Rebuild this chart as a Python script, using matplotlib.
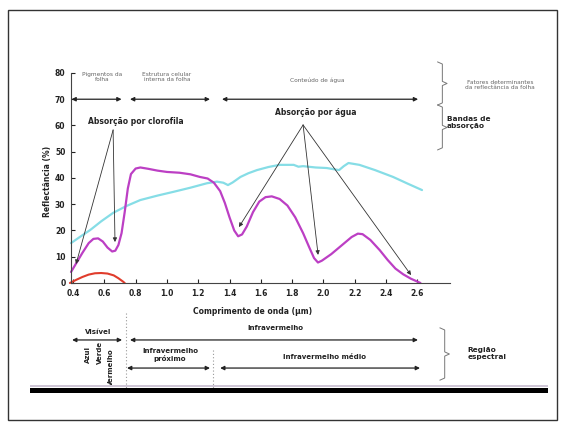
import matplotlib
matplotlib.use('Agg')
import matplotlib.pyplot as plt
from matplotlib.patches import Rectangle

plt.rcParams['font.family'] = ['DejaVu Sans']

# curvas de reflectância (comprimento de onda em µm, reflectância em %)
folha_x = [0.387, 0.42, 0.46, 0.50, 0.53, 0.56, 0.59, 0.62, 0.65, 0.67, 0.69, 0.71,
           0.73, 0.75, 0.77, 0.80, 0.83, 0.88, 0.94, 1.0, 1.08, 1.15, 1.21, 1.26,
           1.30, 1.34, 1.37, 1.40, 1.43, 1.455, 1.48, 1.51, 1.55, 1.59, 1.63, 1.67,
           1.72, 1.77, 1.82, 1.87, 1.91, 1.94, 1.965, 1.99, 2.05, 2.12, 2.18, 2.22,
           2.25, 2.30, 2.36, 2.41, 2.46, 2.51, 2.56, 2.62]
folha_y = [4.2, 7.5, 11.5, 15.2, 16.8, 17.0, 15.8, 13.5, 12.0, 12.3, 14.5, 19.0,
           27.0, 36.0, 41.5, 43.6, 44.0, 43.5, 42.8, 42.3, 42.0, 41.4, 40.4, 39.8,
           38.2, 35.0, 30.5, 25.0, 20.0, 17.8, 18.5, 21.5, 27.0, 31.0, 32.7, 33.0,
           32.0, 29.5, 25.0, 19.0, 13.5, 9.5, 7.8, 8.5, 11.0, 14.5, 17.5, 18.8,
           18.6, 16.4, 12.5, 8.8, 5.5, 3.3, 1.6, 0.0]

agua_x = [0.387, 0.45, 0.51, 0.58, 0.656, 0.74, 0.83, 0.94, 1.04, 1.15, 1.256, 1.32,
          1.36, 1.39, 1.42, 1.47, 1.52, 1.575, 1.65, 1.72, 1.81, 1.84, 1.87, 1.95,
          2.02, 2.10, 2.13, 2.16, 2.23, 2.33, 2.445, 2.54, 2.63]
agua_y = [15.2, 17.8, 20.2, 23.5, 26.7, 29.3, 31.6, 33.3, 34.7, 36.3, 38.0, 38.6,
          38.2, 37.3, 38.3, 40.4, 41.8, 43.0, 44.2, 45.0, 45.0, 44.3, 44.5, 44.0,
          43.8, 43.0, 44.5, 45.7, 45.0, 43.0, 40.4, 37.8, 35.4]

clorofila_x = [0.38, 0.42, 0.46, 0.50, 0.54, 0.58, 0.62, 0.66, 0.69, 0.72, 0.73]
clorofila_y = [0.0, 1.2, 2.3, 3.2, 3.7, 3.8, 3.6, 2.9, 1.8, 0.5, 0.0]

xticks = [0.4, 0.6, 0.8, 1.0, 1.2, 1.4, 1.6, 1.8, 2.0, 2.2, 2.4, 2.6]
yticks = [0, 10, 20, 30, 40, 50, 60, 70, 80]

fig = plt.figure(figsize=(5.65, 4.26), dpi=100)
ax = fig.add_axes([0.1257, 0.3357, 0.6708, 0.493])

estilo = dict(solid_joinstyle='round', solid_capstyle='round', clip_on=False)
ax.plot(agua_x, agua_y, color='#86dde6', lw=1.6, **estilo)
ax.plot(folha_x, folha_y, color='#bc3fc4', lw=1.6, **estilo)
ax.plot(clorofila_x, clorofila_y, color='#e03c2c', lw=1.5, **estilo)

ax.set_xlim(0.387, 2.809)
ax.set_ylim(0, 80)
ax.set_xticks(xticks)
ax.set_xticklabels(['%.1f' % v for v in xticks])
ax.set_yticks(yticks)
ax.tick_params(direction='in', length=3, width=0.8, labelsize=5.5, pad=4, colors='#222')
for lab in ax.get_xticklabels() + ax.get_yticklabels():
    lab.set_fontweight('bold')
ax.spines['top'].set_visible(False)
ax.spines['right'].set_visible(False)
ax.spines['left'].set_color('#444')
ax.spines['bottom'].set_color('#444')

ax.text(0.234, 38.5, 'Reflectância (%)', rotation=90, ha='center', va='center',
        fontsize=5.5, fontweight='bold', color='#222')
ax.text(1.544, -11.0, 'Comprimento de onda (µm)', ha='center', va='center',
        fontsize=5.5, fontweight='bold', color='#222')


def seta_dupla(x0, x1, y):
    ax.annotate('', xy=(x1, y), xytext=(x0, y), annotation_clip=False,
                arrowprops=dict(arrowstyle='<|-|>', color='#222', lw=0.9,
                                mutation_scale=6, shrinkA=0, shrinkB=0))


def seta(x0, y0, x1, y1):
    ax.annotate('', xy=(x1, y1), xytext=(x0, y0), annotation_clip=False,
                arrowprops=dict(arrowstyle='-|>', color='#333', lw=0.6,
                                mutation_scale=6, shrinkA=0, shrinkB=0))


def chave(x, y0, y1):
    ym = (y0 + y1) / 2
    d = 0.03
    ax.plot([x, x + d, x + d, x + 2 * d, x + d, x + d, x], [y0, y0 - 0.8, ym + 0.8, ym, ym - 0.8, y1 + 0.8, y1],
            color='#777', lw=0.7, clip_on=False)


# fatores determinantes
seta_dupla(0.39, 0.71, 70)
seta_dupla(0.764, 1.275, 70)
seta_dupla(1.352, 2.605, 70)
pequeno = dict(ha='center', va='center', fontsize=4.2, color='#666', linespacing=1.1)
ax.text(0.585, 78.5, 'Pigmentos da\nfolha', **pequeno)
ax.text(1.0, 78.5, 'Estrutura celular\ninterna da folha', **pequeno)
ax.text(1.96, 77.3, 'Conteúdo de água', **pequeno)

chave(2.73, 84.2, 67.8)
chave(2.73, 67.8, 50.7)
ax.text(3.13, 75.4, 'Fatores determinantes\nda reflectância da folha', **pequeno)
ax.text(2.79, 61.0, 'Bandas de\nabsorção', ha='left', va='center', fontsize=5.3,
        fontweight='bold', color='#222', linespacing=1.2)

# bandas de absorção
ax.text(0.80, 61.7, 'Absorção por clorofila', ha='center', va='center', fontsize=5.5,
        fontweight='bold', color='#222')
seta(0.656, 58.3, 0.419, 7.2)
seta(0.656, 58.3, 0.668, 15.6)
ax.text(1.95, 65.1, 'Absorção por água', ha='center', va='center', fontsize=5.5,
        fontweight='bold', color='#222')
seta(1.87, 60.2, 1.46, 21.3)
seta(1.87, 60.2, 1.966, 10.7)
seta(1.87, 60.2, 2.56, 3.0)

# região espectral
negrito = dict(ha='center', va='center', fontsize=5.0, fontweight='bold', color='#222')
seta_dupla(0.394, 0.713, -21.7)
ax.text(0.56, -18.7, 'Visível', **negrito)
seta_dupla(0.764, 2.604, -21.7)
ax.text(1.69, -17.1, 'Infravermelho', **negrito)
seta_dupla(0.745, 1.275, -32.4)
ax.text(1.02, -27.4, 'Infravermelho\npróximo', linespacing=1.1, **negrito)
seta_dupla(1.34, 2.617, -32.4)
ax.text(2.01, -28.2, 'Infravermelho médio', **negrito)
ax.plot([0.739, 0.739], [-11.4, -40], color='#999', lw=0.8, ls=(0, (1, 2)), clip_on=False)
ax.plot([1.295, 1.295], [-25.5, -40], color='#999', lw=0.8, ls=(0, (1, 2)), clip_on=False)
ax.text(0.496, -27.4, 'Azul', rotation=90, **negrito)
ax.text(0.572, -26.3, 'Verde', rotation=90, **negrito)
ax.text(0.643, -32.0, 'Vermelho', rotation=90, **negrito)
chave(2.745, -17.1, -37.0)
ax.text(2.92, -27.0, 'Região\nespectral', ha='left', va='center', fontsize=5.3,
        fontweight='bold', color='#222', linespacing=1.2)

# barra preta inferior e moldura
fig.add_artist(Rectangle((0.053, 0.0915), 0.917, 0.004, transform=fig.transFigure,
                         facecolor='#cfc6d6', edgecolor='none'))
fig.add_artist(Rectangle((0.053, 0.0775), 0.917, 0.0125, transform=fig.transFigure,
                         facecolor='black', edgecolor='none'))
fig.add_artist(Rectangle((0.014, 0.014), 0.972, 0.963, transform=fig.transFigure,
                         facecolor='none', edgecolor='#333', lw=1.0))

fig.savefig('out.png', dpi=100)
